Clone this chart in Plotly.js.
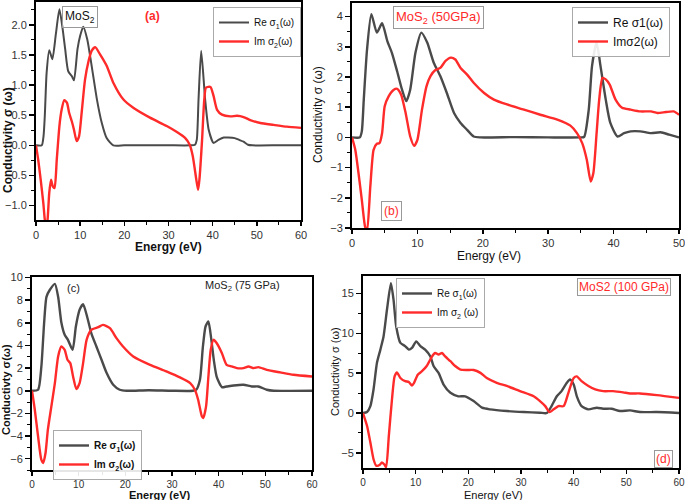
<!DOCTYPE html>
<html><head><meta charset="utf-8">
<script src="https://cdn.plot.ly/plotly-3.0.1.min.js"></script>
<style>body{margin:0;background:#fff}#chart{width:685px;height:500px}</style>
</head><body><div id="chart"></div>
<script>
// Panel (a) MoS2
const energyA_re = [0,1.3,1.7,2.0,2.4,3.0,3.7,4.5,5.3,6.0,6.6,7.3,8.1,8.6,9.4,10.0,10.7,11.6,12.6,13.8,14.9,16.0,17.5,20,25,30,35,36.0,36.4,36.8,37.4,38.3,39.1,40.2,41.3,42.5,43.5,45,46,47,48,49,55,60];
const reA = [0,0,0.15,0.5,1.2,1.58,1.43,1.85,2.26,1.95,1.6,1.23,1.15,1.08,1.6,1.82,1.97,1.76,1.32,0.76,0.37,0.12,0,0,0,0,0,0.01,0.09,0.76,1.57,0.76,0.26,0.04,0.09,0.13,0.13,0.12,0.09,0.06,0.01,0,0,0];
const energyA_im = [0,0.5,1.06,1.66,2.0,2.3,2.6,3.0,3.4,3.8,4.2,4.7,5.3,5.8,6.4,7.0,7.5,8.1,8.6,9.2,9.75,10.4,11.1,11.9,12.6,13.4,14.5,16.0,17.5,19.8,22.1,25.8,29.6,31.9,33.8,34.8,35.5,36.3,36.7,37.0,37.6,38.1,38.5,39.5,40.2,41.0,42.1,44.0,45.5,47.0,48.5,50.8,53.8,56.8,60];
const imA = [0,-0.24,-0.57,-0.96,-1.24,-1.35,-1.25,-0.79,-0.57,-0.68,-0.71,-0.24,0.32,0.59,0.75,0.71,0.54,0.4,0.26,0.07,0.15,0.59,1.09,1.4,1.57,1.63,1.51,1.32,1.04,0.76,0.62,0.46,0.32,0.22,0.12,0.01,-0.18,-0.57,-0.74,-0.57,0.09,0.76,0.96,0.97,0.82,0.59,0.51,0.48,0.49,0.47,0.42,0.37,0.34,0.31,0.29];

// Panel (b) MoS2 50 GPa
const energyB_re = [0,1.2,1.5,1.8,2.3,2.96,3.8,4.6,5.4,6.1,6.9,7.65,8.3,8.9,9.7,10.6,11.5,12.5,13.5,14.5,15.6,16.6,17.6,18.6,19.6,25,30,35,35.5,36.2,36.7,37.4,38.0,38.8,39.5,40.6,41.6,42.6,44.1,45.7,47.2,48.5,50];
const reB = [0,0,0.2,1.25,2.91,4.08,3.47,3.78,3.19,2.8,2.19,1.58,1.2,1.58,2.8,3.47,3.14,2.47,2.03,1.47,0.81,0.48,0.25,0.03,0,0.01,0,0,0.02,0.92,2.36,3.14,2.36,1.25,0.48,0.03,0.14,0.2,0.2,0.14,0.17,0.09,0];
const energyB_im = [0,0.5,1.0,1.5,2.0,2.3,2.8,3.3,3.8,4.2,4.6,5.0,5.6,6.4,6.9,7.5,8.2,8.9,9.5,10.0,10.7,11.4,12.0,12.75,13.5,14.3,15.1,15.8,16.6,17.6,18.6,20.2,21.7,23.7,26.3,28.8,31.4,33.4,34.4,35.2,35.9,36.5,36.9,37.4,37.8,38.3,38.8,39.4,40.3,41.3,42.6,44.1,45.7,46.7,48.0,49.2,50];
const imB = [0,-0.41,-1.19,-2.07,-2.96,-3.1,-1.63,-0.41,-0.21,-0.19,0.14,1.03,1.36,1.58,1.61,1.42,0.81,0.03,-0.28,-0.08,0.92,1.70,2.03,2.23,2.3,2.53,2.64,2.58,2.3,2.08,1.81,1.47,1.25,1.09,0.92,0.75,0.59,0.39,0.14,-0.19,-0.74,-1.46,-1.19,0.14,1.25,1.97,1.92,1.75,1.25,0.98,0.92,0.86,0.86,0.81,0.84,0.86,0.75];

// Panel (c) MoS2 75 GPa
const energyC_re = [0,1.3,2.0,2.6,3.1,3.8,4.9,5.6,6.3,7.0,7.7,8.7,9.4,10.2,10.95,11.8,12.7,13.8,14.9,16.0,17.4,18.8,20.3,25,30,34.5,35.2,36.0,36.6,37.2,37.8,38.4,39.0,39.6,40.7,41.7,43.2,45.3,47.1,48.5,50.3,51.8,60];
const reC = [0,0.09,2.1,6,8.3,8.9,9.44,8.3,6,4.94,4.5,3.62,5.68,7.15,7.65,6.56,5.1,3.91,2.74,1.56,0.53,0.09,0,0.05,0,0,0.1,1.0,3.8,5.7,6.12,4.6,2.6,1.2,0.32,0.38,0.47,0.53,0.38,0.38,0.09,0,0];
const energyC_im = [0,0.6,1.3,2.0,2.4,2.9,3.4,4.15,4.9,5.6,6.3,7.0,7.6,8.2,8.8,9.5,10.2,10.95,11.7,12.7,14.2,15.2,16.7,18.1,19.5,21.7,25.3,28.8,31.7,33.9,34.9,35.6,36.4,36.7,37.3,37.8,38.3,38.9,39.6,40.7,41.7,42.8,43.9,45.3,46.4,47.5,48.5,50.3,53.2,56.0,60];
const imC = [0,-1.68,-4.03,-6.09,-6.38,-5.5,-3.44,-1.38,0.68,3.03,3.91,3.62,2.74,2.44,1.26,0.15,0.68,2.44,4.5,5.38,5.62,5.82,5.53,4.65,3.91,3.03,2.29,1.71,1.18,0.68,0.09,-0.79,-2.26,-2.41,-1.38,1.26,3.62,4.5,4.2,3.32,2.29,2.15,2.0,2.0,2.15,2.0,2.09,1.85,1.62,1.41,1.26];

// Panel (d) MoS2 100 GPa
const energyD_re = [0,0.76,1.4,2.0,2.65,3.3,3.9,4.55,5.3,5.8,6.3,7.1,8.0,8.7,9.3,10.1,10.9,11.8,12.8,13.4,14.35,15.3,16.6,18.1,19.4,21.0,22.6,24.1,27.3,30.5,33.6,34.9,35.8,36.8,37.7,38.7,39.3,40.0,40.6,41.5,42.8,44.4,45.6,47.2,48.8,50.7,52.6,55.8,60];
const reD = [0,0.12,0.87,2.96,6.3,7.96,9.6,12.96,16.3,14.2,10.9,8.8,8.4,7.96,8.17,9.0,8.4,7.96,7.1,5.9,5.04,3.58,2.54,2.1,2.1,1.5,0.67,0.46,0.25,0.12,0.04,0,0.87,2.1,2.75,3.8,4.2,3.58,2.1,0.87,0.46,0.67,0.54,0.54,0.25,0.33,0.12,0.12,0];
const energyD_im = [0,0.76,1.4,2.0,2.5,3.2,3.6,4.1,4.4,4.9,5.5,6.0,6.45,7.1,8.0,8.7,9.3,9.7,10.4,11.2,12.1,13.1,13.7,14.35,15.0,15.6,16.6,17.5,18.5,19.7,21.0,22.3,23.5,25.4,27.3,29.8,32.4,33.6,34.6,35.4,36.2,37.1,38.1,39.0,40.0,40.6,41.5,42.8,44.1,45.6,47.5,49.4,50.7,52.6,55.8,60];
const imD = [0,-1.6,-3.7,-5.8,-6.6,-6.5,-6.2,-6.5,-6.8,-2.9,1.7,4.6,5.1,4.4,4.0,3.9,3.46,3.8,4.8,5.25,5.9,7.1,7.54,7.33,7.54,7.1,6.5,5.9,5.46,5.4,5.4,5.04,4.4,3.8,3.4,2.75,2.1,1.5,0.87,0.12,0.46,0.87,0.87,2.54,4.4,4.6,4.0,3.4,2.96,2.75,2.75,2.6,2.46,2.46,2.25,1.9];

const W = 685, H = 500;
const px = x => x / W, py = y => 1 - y / H;
const GRAY = '#4a4a4a', RED = '#ff2a2a';
const FONT = 'Liberation Sans, Arial, sans-serif';

function tr(x, y, name, color, xa, ya, leg, w) {
  return {x, y, name, type: 'scatter', mode: 'lines',
    line: {color, width: w || 2, shape: 'spline', smoothing: 0.6},
    xaxis: xa, yaxis: ya, legend: leg, hoverinfo: 'skip'};
}

const data = [
  tr(energyA_re, reA, 'Re σ<sub>1</sub>(ω)', GRAY, 'x', 'y', 'legend'),
  tr(energyA_im, imA, 'Im σ<sub>2</sub>(ω)', RED, 'x', 'y', 'legend', 2.4),
  tr(energyB_re, reB, 'Re σ1(ω)', GRAY, 'x2', 'y2', 'legend2', 2.4),
  tr(energyB_im, imB, 'Imσ2(ω)', RED, 'x2', 'y2', 'legend2', 2.4),
  tr(energyC_re, reC, '<b>Re σ<sub>1</sub>(ω)</b>', GRAY, 'x3', 'y3', 'legend3', 2.4),
  tr(energyC_im, imC, '<b>Im σ<sub>2</sub>(ω)</b>', RED, 'x3', 'y3', 'legend3', 2.4),
  tr(energyD_re, reD, 'Re σ<sub>1</sub>(ω)', GRAY, 'x4', 'y4', 'legend4', 2.4),
  tr(energyD_im, imD, 'Im σ<sub>2</sub> (ω)', RED, 'x4', 'y4', 'legend4', 2.4)
];

function xax(l, r, range, fs) {
  return {domain: [px(l), px(r)], range, dtick: 10, tick0: 0, ticks: 'outside', ticklen: 4, tickwidth: 1.5,
    tickcolor: '#000', showline: true, linecolor: '#000', linewidth: 2, mirror: true, showgrid: false,
    zeroline: false, ticklabeloverflow: 'allow',
    tickfont: {family: FONT, size: fs || 11, color: '#333'},
    minor: {dtick: 5, ticks: 'outside', ticklen: 3, tickcolor: '#000', tickwidth: 1}};
}
function yax(t, b, range, dtick, fmt) {
  return {domain: [py(b), py(t)], range, dtick, tick0: 0, ticks: 'outside', ticklen: 5, tickwidth: 1.5,
    tickcolor: '#000', showline: true, linecolor: '#000', linewidth: 2, mirror: true, showgrid: false,
    zeroline: false, tickformat: fmt || '', ticklabeloverflow: 'allow', tickfont: {family: FONT, size: 11, color: '#333'},
    minor: {dtick: dtick / 2, ticks: 'outside', ticklen: 3, tickcolor: '#000', tickwidth: 1}};
}

function leg(l, t, size) {
  return {x: px(l), y: py(t), xanchor: 'left', yanchor: 'top', bgcolor: 'rgba(255,255,255,0.9)',
    bordercolor: '#aaa', borderwidth: 1, font: {family: FONT, size, color: '#111'},
    tracegroupgap: 0, itemwidth: 30};
}

function ann(x, y, text, opts) {
  return Object.assign({xref: 'paper', yref: 'paper', x: px(x), y: py(y), text, showarrow: false,
    xanchor: 'center', yanchor: 'middle', font: {family: FONT, size: 11, color: '#222'}}, opts || {});
}

const layout = {
  width: W, height: H, margin: {l: 0, r: 0, t: 0, b: 0},
  paper_bgcolor: '#fff', plot_bgcolor: '#fff', showlegend: true,
  font: {family: FONT},
  xaxis: xax(36, 301, [0, 60]),
  yaxis: Object.assign(yax(2, 220, [-1.24, 2.38], 0.5, '.1f'), {anchor: 'x'}),
  xaxis2: Object.assign(xax(352, 679, [0, 50]), {anchor: 'y2'}),
  yaxis2: Object.assign(yax(3, 228, [-3, 4.45], 1), {anchor: 'x2'}),
  xaxis3: Object.assign(xax(32, 312, [0, 60], 10), {anchor: 'y3'}),
  yaxis3: Object.assign(yax(277, 470, [-7, 10.05], 2), {anchor: 'x3'}),
  xaxis4: Object.assign(xax(363, 679, [0, 60], 10), {anchor: 'y4'}),
  yaxis4: Object.assign(yax(276, 468, [-6.9, 17.2], 5), {anchor: 'x4'}),
  legend: leg(213, 7, 10),
  legend2: leg(572, 7, 12),
  legend3: leg(53, 430, 10),
  legend4: leg(396, 278, 10),
  annotations: [
    // panel labels
    ann(80, 17, 'MoS<sub>2</sub>', {bordercolor: '#999', borderwidth: 1, borderpad: 2, font: {family: FONT, size: 12, color: '#111'}}),
    ann(152, 16, '<b>(a)</b>', {font: {family: FONT, size: 12, color: RED}}),
    ann(438, 17, 'MoS<sub>2</sub> (50GPa)', {bordercolor: '#999', borderwidth: 1, borderpad: 2, font: {family: FONT, size: 13, color: RED}}),
    ann(392, 211, '(b)', {bordercolor: '#999', borderwidth: 1, borderpad: 2, font: {family: FONT, size: 12, color: RED}}),
    ann(73, 288, '(c)', {font: {family: FONT, size: 11, color: '#222'}}),
    ann(243, 286, 'MoS<sub>2</sub> (75 GPa)', {font: {family: FONT, size: 11, color: '#222'}}),
    ann(624, 287, 'MoS2 (100 GPa)', {bordercolor: '#999', borderwidth: 1, borderpad: 1, font: {family: FONT, size: 12, color: RED}}),
    ann(663, 459, '(d)', {bordercolor: '#999', borderwidth: 1, borderpad: 1, font: {family: FONT, size: 12, color: RED}}),
    // axis titles
    ann(168, 247, '<b>Energy (eV)</b>', {font: {family: FONT, size: 12, color: '#111'}}),
    ann(8, 140, '<b>Conductivity σ (ω)</b>', {textangle: -90, font: {family: FONT, size: 12, color: '#111'}}),
    ann(489, 256, 'Energy (eV)', {font: {family: FONT, size: 12, color: '#111'}}),
    ann(318, 115, 'Conductivity σ (ω)', {textangle: -90, font: {family: FONT, size: 12, color: '#111'}}),
    ann(159, 494.5, '<b>Energy (eV)</b>', {font: {family: FONT, size: 11, color: '#111'}}),
    ann(6, 390, '<b>Conductivty σ(ω)</b>', {textangle: -90, font: {family: FONT, size: 11, color: '#111'}}),
    ann(493, 494.5, 'Energy (eV)', {font: {family: FONT, size: 11, color: '#111'}}),
    ann(335, 372, 'Conductivity σ (ω)', {textangle: -90, font: {family: FONT, size: 11, color: '#111'}})
  ]
};

Plotly.newPlot('chart', data, layout, {staticPlot: true, displayModeBar: false});
</script>
</body></html>
